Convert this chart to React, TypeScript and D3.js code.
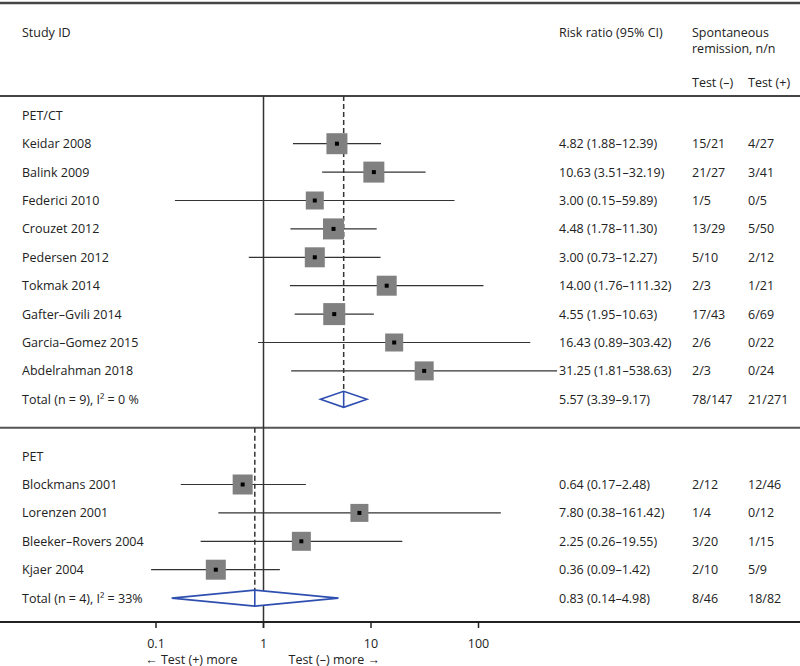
import React from "react";
import * as d3 from "d3";

// ---- data ----
const petctStudies = ["Keidar 2008", "Balink 2009", "Federici 2010", "Crouzet 2012", "Pedersen 2012", "Tokmak 2014", "Gafter\u2013Gvili 2014", "Garcia\u2013Gomez 2015", "Abdelrahman 2018"];
const petctRR = [4.82, 10.63, 3.0, 4.48, 3.0, 14.0, 4.55, 16.43, 31.25];
const petctLo = [1.88, 3.51, 0.15, 1.78, 0.73, 1.76, 1.95, 0.89, 1.81];
const petctHi = [12.39, 32.19, 59.89, 11.3, 12.27, 111.32, 10.63, 303.42, 538.63];
const petctNeg = ["15/21", "21/27", "1/5", "13/29", "5/10", "2/3", "17/43", "2/6", "2/3"];
const petctPos = ["4/27", "3/41", "0/5", "5/50", "2/12", "1/21", "6/69", "0/22", "0/24"];
const petctWeight = [21, 21, 18, 21, 20, 20, 22, 18, 19];
const petctTotal = { label: "Total (n = 9), I\u00b2 = 0 %", rr: 5.57, lo: 3.39, hi: 9.17, neg: "78/147", pos: "21/271" };

const petStudies = ["Blockmans 2001", "Lorenzen 2001", "Bleeker\u2013Rovers 2004", "Kjaer 2004"];
const petRR = [0.64, 7.8, 2.25, 0.36];
const petLo = [0.17, 0.38, 0.26, 0.09];
const petHi = [2.48, 161.42, 19.55, 1.42];
const petNeg = ["2/12", "1/4", "3/20", "2/10"];
const petPos = ["12/46", "0/12", "1/15", "5/9"];
const petWeight = [20, 18, 19, 20];
const petTotal = { label: "Total (n = 4), I\u00b2 = 33%", rr: 0.83, lo: 0.14, hi: 4.98, neg: "8/46", pos: "18/82" };

const tickValues = [0.1, 1, 10, 100];
const tickLabels = ["0.1", "1", "10", "100"];

const fmt = d3.format(".2f");

export default function App() {
  const W = 800, H = 666;
  const x = d3.scaleLog().domain([0.1, 100]).range([156, 478.5]);
  const y = d3.scaleLinear().domain([0, 17]).range([115.3, 598.1]);
  const boxScale = d3.scaleLinear().domain([0, 22]).range([0, 22]);
  const font = "'Open Sans', sans-serif";
  const fs = 12.5;
  const textCol = "#222";
  const lineCol = "#333";
  const blue = "#2f4fb0";
  const colRR = 559, colNeg = 692, colPos = 748, colLabel = 22;
  const dh = 8;

  const sections = [
    { title: "PET/CT", start: 0, names: petctStudies, rr: petctRR, lo: petctLo, hi: petctHi, neg: petctNeg, pos: petctPos, w: petctWeight, total: petctTotal, lineTop: 96 },
    { title: "PET", start: 12, names: petStudies, rr: petRR, lo: petLo, hi: petHi, neg: petNeg, pos: petPos, w: petWeight, total: petTotal, lineTop: y(11) },
  ];

  const T = (props: any) => (
    <text fontFamily={font} fontSize={fs} fill={textCol} dominantBaseline="central" {...props} />
  );

  const axisY = 622;

  return (
    <svg width={W} height={H} style={{ position: "absolute", left: 0, top: 0, background: "#fff" }}>
      {/* horizontal rules */}
      <line x1={0} x2={W} y1={3} y2={3} stroke="#444" strokeWidth={2.5} />
      <line x1={0} x2={W} y1={96} y2={96} stroke="#444" strokeWidth={2} />
      <line x1={0} x2={W} y1={y(11)} y2={y(11)} stroke="#555" strokeWidth={2} />

      {/* header */}
      <T x={colLabel} y={32}>Study ID</T>
      <T x={colRR} y={32}>Risk ratio (95% CI)</T>
      <T x={colNeg} y={32}>Spontaneous</T>
      <T x={colNeg} y={48}>remission, n/n</T>
      <T x={colNeg} y={82}>Test (&#8211;)</T>
      <T x={colPos} y={82}>Test (+)</T>

      {/* null line */}
      <line x1={x(1)} x2={x(1)} y1={96} y2={axisY + 6} stroke={lineCol} strokeWidth={1.5} />

      {sections.map((s, si) => {
        const totalIdx = s.start + s.names.length + 1;
        const ty = y(totalIdx);
        const cx = x(s.total.rr);
        return (
          <g key={si}>
            <line x1={cx} x2={cx} y1={s.lineTop} y2={ty - dh} stroke={lineCol} strokeWidth={1.5} strokeDasharray="5,3" />
            <T x={colLabel} y={y(s.start)}>{s.title}</T>
            {s.names.map((n, i) => {
              const yy = y(s.start + 1 + i);
              const b = boxScale(s.w[i]);
              const px = x(s.rr[i]);
              return (
                <g key={n}>
                  <T x={colLabel} y={yy}>{n}</T>
                  <line x1={x(s.lo[i])} x2={x(s.hi[i])} y1={yy} y2={yy} stroke={lineCol} strokeWidth={1.2} />
                  <rect x={px - b / 2} y={yy - b / 2} width={b} height={b} fill="#808080" />
                  <rect x={px - 2} y={yy - 2} width={4} height={4} fill="#000" />
                  <T x={colRR} y={yy}>{`${fmt(s.rr[i])} (${fmt(s.lo[i])}\u2013${fmt(s.hi[i])})`}</T>
                  <T x={colNeg} y={yy}>{s.neg[i]}</T>
                  <T x={colPos} y={yy}>{s.pos[i]}</T>
                </g>
              );
            })}
            <T x={colLabel} y={ty}>{s.total.label}</T>
            <path
              d={`M${x(s.total.lo)},${ty} L${cx},${ty - dh} L${x(s.total.hi)},${ty} L${cx},${ty + dh} Z`}
              fill="#fff" stroke={blue} strokeWidth={1.6}
            />
            <line x1={cx} x2={cx} y1={ty - dh} y2={ty + dh} stroke={blue} strokeWidth={1.6} />
            <T x={colRR} y={ty}>{`${fmt(s.total.rr)} (${fmt(s.total.lo)}\u2013${fmt(s.total.hi)})`}</T>
            <T x={colNeg} y={ty}>{s.total.neg}</T>
            <T x={colPos} y={ty}>{s.total.pos}</T>
          </g>
        );
      })}

      {/* axis */}
      <line x1={0} x2={W} y1={axisY} y2={axisY} stroke="#222" strokeWidth={2} />
      {tickValues.map((t, i) => (
        <g key={t}>
          <line x1={x(t)} x2={x(t)} y1={axisY} y2={axisY + 6} stroke="#222" strokeWidth={1.5} />
          <T x={x(t)} y={643} textAnchor="middle">{tickLabels[i]}</T>
        </g>
      ))}
      <T x={x(1) - 26} y={659} textAnchor="end">{"\u2190 Test (+) more"}</T>
      <T x={x(1) + 25} y={659} textAnchor="start">{"Test (\u2013) more \u2192"}</T>
    </svg>
  );
}
